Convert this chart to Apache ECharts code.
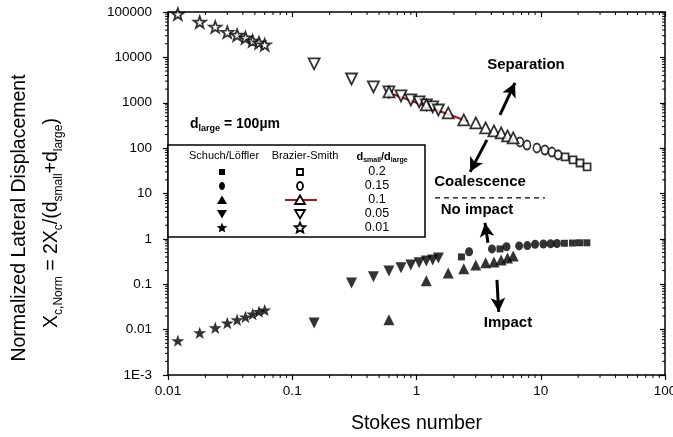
<!DOCTYPE html>
<html><head><meta charset="utf-8">
<script src="https://cdn.jsdelivr.net/npm/echarts@6/dist/echarts.min.js"></script>
<style>html,body{margin:0;padding:0;background:#fff}#c{width:673px;height:437px}</style>
</head><body><div id="c"></div>
<script>
// ---- data ----
const xTickLabels = ['0.01','0.1','1','10','100'];
const yTickLabels = ['1E-3','0.01','0.1','1','10','100','1000','10000','100000'];

// d_small/d_large = 0.01 (stars)
const starSt = [0.012,0.018,0.024,0.030,0.036,0.042,0.048,0.054,0.060];
const starBS = [90000,60000,47000,36000,31000,27000,23000,21000,19000];
const starSL = [0.0057,0.0085,0.011,0.014,0.0165,0.019,0.022,0.025,0.027];
// 0.05 (down triangles)
const triDownSt = [0.15,0.3,0.45,0.6,0.75,0.9,1.05,1.2,1.35,1.5];
const triDownBS = [7200,3340,2230,1730,1414,1153,1042,900,809,693];
const triDownSL = [0.014,0.107,0.146,0.197,0.23,0.267,0.296,0.327,0.344,0.381];
// 0.1 (up triangles)
const triUpSt = [0.6,1.2,1.8,2.4,3.0,3.6,4.2,4.8,5.4,6.0];
const triUpBS = [1730,895,596,418,359,279,239,216,186,168];
const triUpSL = [0.0165,0.119,0.178,0.219,0.267,0.296,0.311,0.344,0.381,0.422];
// 0.15 (circles)
const circBSSt = [6.8,7.75,9.3,10.8,12.3,13.8];
const circBS = [137,117,101,91,82,71];
const circSLSt = [2.65,4.05,5.3,6.7,7.8,9.0,10.5,12.0,13.5];
const circSL = [0.52,0.60,0.67,0.70,0.71,0.76,0.77,0.78,0.79];
// 0.2 (squares)
const sqBSSt = [15.7,18.2,20.7,23.6];
const sqBS = [64,55,47,38.5];
const sqSLSt = [2.3,4.7,15.5,18,20.5,23.5];
const sqSL = [0.40,0.60,0.80,0.81,0.82,0.82];
// red fit line through Brazier-Smith 0.1 data
const fitSt = [0.65,2.6];
const fitY = [1540,385];
// dashed coalescence / no impact boundary
const boundSt = [1.41,10.8];
const boundY = [8,8];
// annotation arrows [from, to]
const arrSeparation = [[4.7,540],[6.2,2730]];
const arrCoalescence = [[3.69,152],[2.70,30]];
const arrNoImpact = [[3.76,0.82],[3.56,2.25]];
const arrImpact = [[4.44,0.125],[4.59,0.0247]];

// ---- chart ----
const FONT = '"Liberation Sans", Arial, sans-serif';
const STAR = 'path://M50,2 L61.8,35.8 L97.6,36.4 L69,58.2 L79.4,92.4 L50,72 L20.6,92.4 L31,58.2 L2.4,36.4 L38.2,35.8 Z';
const zip = (a,b) => a.map((v,i)=>[v,b[i]]);
function sc(name, xs, ys, symbol, size, filled){
  return {type:'scatter', name, data: zip(xs,ys), symbol, symbolSize:size, symbolKeepAspect:true, z:5,
    itemStyle: filled ? {color:'#000'} : {color:'#fff', borderColor:'#000', borderWidth:1.8},
    emphasis:{disabled:true}};
}
function lblFromExp(labels, offset){
  return v => { const e = Math.round(Math.log10(v)); return labels[e+offset] || ''; };
}
const minorX = []; for(let n=-2;n<2;n++) for(let k=2;k<10;k++) minorX.push([k*Math.pow(10,n), 1]);
const minorY = []; for(let n=-3;n<5;n++) for(let k=2;k<10;k++) minorY.push([1, k*Math.pow(10,n)]);

function arrowLine(a){ return [{coord:a[0], symbol:'none'},{coord:a[1], symbol:'arrow'}]; }

const chart = echarts.init(document.getElementById('c'), null, {renderer:'canvas'});
const axisLine = {show:true, lineStyle:{color:'#000', width:1.5}};
const option = {
  animation:false,
  textStyle:{fontFamily:FONT},
  grid:{left:168, right:8, top:12, bottom:62, containLabel:false, outerBoundsMode:'none'},
  xAxis:[
    {type:'log', logBase:10, min:0.01, max:100, splitNumber:4, position:'bottom',
     axisLine, axisTick:{show:true, inside:false, length:5, lineStyle:{color:'#000', width:1.2}},
     axisLabel:{formatter: lblFromExp(xTickLabels,2), color:'#000', fontSize:13.5, margin:9, fontFamily:FONT},
     splitLine:{show:false},
     name:'Stokes number', nameLocation:'middle', nameGap:39,
     nameTextStyle:{fontSize:19.5, color:'#000', fontFamily:FONT}},
    {type:'log', logBase:10, min:0.01, max:100, splitNumber:4, position:'top',
     axisLine, axisTick:{show:true, inside:true, length:5, lineStyle:{color:'#000', width:1.2}},
     axisLabel:{show:false}, splitLine:{show:false}}
  ],
  yAxis:[
    {type:'log', logBase:10, min:0.001, max:100000, splitNumber:8, position:'left',
     axisLine, axisTick:{show:true, inside:false, length:5, lineStyle:{color:'#000', width:1.2}},
     axisLabel:{formatter: lblFromExp(yTickLabels,3), color:'#000', fontSize:13.5, margin:16, fontFamily:FONT},
     splitLine:{show:false}},
    {type:'log', logBase:10, min:0.001, max:100000, splitNumber:8, position:'right',
     axisLine, axisTick:{show:true, inside:true, length:5, lineStyle:{color:'#000', width:1.2}},
     axisLabel:{show:false}, splitLine:{show:false}}
  ],
  series:[
    {type:'custom', silent:true, clip:false, data:minorX, z:3,
     renderItem:(p,api)=>{ const v=api.value(0);
       const b=api.coord([v,0.001]), t=api.coord([v,100000]);
       return {type:'group', children:[
         {type:'line', shape:{x1:b[0],y1:b[1],x2:b[0],y2:b[1]+3}, style:{stroke:'#000',lineWidth:1}},
         {type:'line', shape:{x1:t[0],y1:t[1],x2:t[0],y2:t[1]+3}, style:{stroke:'#000',lineWidth:1}}]}; }},
    {type:'custom', silent:true, clip:false, data:minorY, z:3,
     renderItem:(p,api)=>{ const v=api.value(1);
       const l=api.coord([0.01,v]), r=api.coord([100,v]);
       return {type:'group', children:[
         {type:'line', shape:{x1:l[0],y1:l[1],x2:l[0]-3,y2:l[1]}, style:{stroke:'#000',lineWidth:1}},
         {type:'line', shape:{x1:r[0],y1:r[1],x2:r[0]-3,y2:r[1]}, style:{stroke:'#000',lineWidth:1}}]}; }},
    {type:'line', name:'fit', data: zip(fitSt,fitY), symbol:'none', z:2,
     lineStyle:{color:'#a81818', width:2}},
    {type:'line', name:'boundary', data: zip(boundSt,boundY), symbol:'none', z:2,
     lineStyle:{color:'#000', width:1.3, type:[5,4]},
     markLine:{silent:true, symbolSize:[11,14], label:{show:false},
       lineStyle:{color:'#000', width:3, type:'solid'},
       data:[arrowLine(arrSeparation), arrowLine(arrCoalescence), arrowLine(arrNoImpact), arrowLine(arrImpact)]}},
    sc('BS 0.2', sqBSSt, sqBS, 'rect', 7, false),
    sc('BS 0.15', circBSSt, circBS, 'circle', [7,9], false),
    sc('BS 0.05', triDownSt, triDownBS, 'triangle', 11, false),
    sc('BS 0.1', triUpSt, triUpBS, 'triangle', 11, false),
    sc('BS 0.01', starSt, starBS, STAR, 12, false),
    sc('SL 0.2', sqSLSt, sqSL, 'rect', 7, true),
    sc('SL 0.15', circSLSt, circSL, 'circle', [8,9], true),
    sc('SL 0.1', triUpSt, triUpSL, 'triangle', 11, true),
    sc('SL 0.05', triDownSt, triDownSL, 'triangle', 11, true),
    sc('SL 0.01', starSt, starSL, STAR, 13, true)
  ]
};
// rotate down triangles
option.series.forEach(s=>{ if(s.name==='BS 0.05'||s.name==='SL 0.05') s.symbolRotate=180; });

// ---- legend table & annotations (graphic) ----
function starPts(cx,cy,r){ const pts=[]; for(let i=0;i<10;i++){const a=-Math.PI/2+i*Math.PI/5; const rr=i%2?r*0.45:r; pts.push([cx+rr*Math.cos(a), cy+rr*Math.sin(a)]);} return pts; }
function marker(type, cx, cy, filled){
  const st = filled ? {fill:'#000'} : {fill:'#fff', stroke:'#000', lineWidth:1.8};
  if(type==='rect') return {type:'rect', shape:{x:cx-3,y:cy-3,width:6,height:6}, style:st};
  if(type==='circ') return {type:'ellipse', shape:{cx,cy,rx:3,ry:4}, style:st};
  if(type==='up') return {type:'polygon', shape:{points:[[cx,cy-4.5],[cx+5,cy+4],[cx-5,cy+4]]}, style:st};
  if(type==='down') return {type:'polygon', shape:{points:[[cx,cy+4.5],[cx+5,cy-4],[cx-5,cy-4]]}, style:st};
  return {type:'polygon', shape:{points:starPts(cx,cy,5.5)}, style:st};
}
const legRows = [['rect','0.2',172],['circ','0.15',186],['up','0.1',200],['down','0.05',214],['star','0.01',228]];
const g = [];
g.push({type:'rect', shape:{x:168,y:145,width:257,height:92}, style:{fill:'#fff', stroke:'#000', lineWidth:1.5}, z:10});
g.push({type:'text', x:224, y:156, z:11, style:{text:'Schuch/Löffler', font:'11px '+FONT, fill:'#000', textAlign:'center', textVerticalAlign:'middle'}});
g.push({type:'text', x:305, y:156, z:11, style:{text:'Brazier-Smith', font:'11px '+FONT, fill:'#000', textAlign:'center', textVerticalAlign:'middle'}});
g.push({type:'text', x:382, y:157, z:11, style:{text:'{b|d}{s|small}{b|/d}{s|large}', textAlign:'center', textVerticalAlign:'middle',
  rich:{b:{fontSize:11, fontWeight:'bold', fontFamily:FONT, lineHeight:14, fill:'#000'}, s:{fontSize:7, fontWeight:'bold', fontFamily:FONT, lineHeight:7, verticalAlign:'bottom', fill:'#000'}}}});
legRows.forEach(([t,lab,y])=>{
  const m1 = marker(t,222,y,true); m1.z=11; g.push(m1);
  if(t==='up') g.push({type:'line', z:11, shape:{x1:285,y1:y,x2:317,y2:y}, style:{stroke:'#a81818', lineWidth:2}});
  const m2 = marker(t,300,y,false); m2.z=12; g.push(m2);
  g.push({type:'text', x:377, y:y, z:11, style:{text:lab, font:'12.5px '+FONT, fill:'#000', textAlign:'center', textVerticalAlign:'middle'}});
});
const boldTxt = (text,x,y)=>({type:'text', x, y, z:11, style:{text, font:'bold 15px '+FONT, fill:'#000', textAlign:'center', textVerticalAlign:'middle'}});
g.push(boldTxt('Separation',526,65));
g.push(boldTxt('Coalescence',480,182));
g.push(boldTxt('No impact',477,210));
g.push(boldTxt('Impact',508,323));
g.push({type:'text', x:190, y:124, z:11, style:{text:'{b|d}{s|large}{b| = 100µm}', textAlign:'left', textVerticalAlign:'middle',
  rich:{b:{fontSize:14, fontWeight:'bold', fontFamily:FONT, lineHeight:18, fill:'#000'}, s:{fontSize:9, fontWeight:'bold', fontFamily:FONT, lineHeight:9, verticalAlign:'bottom', fill:'#000'}}}});
// y-axis title
g.push({type:'text', x:20, y:218, rotation:Math.PI/2, style:{text:'Normalized Lateral Displacement', font:'19.5px '+FONT, fill:'#000', textAlign:'center', textVerticalAlign:'middle'}});
g.push({type:'text', x:52, y:223, rotation:Math.PI/2, style:{text:'{m|X}{s|c,Norm}{m| = 2X}{s|c}{m|/(d}{s|small}{m|+d}{s|large}{m|)}', textAlign:'center', textVerticalAlign:'middle',
  rich:{m:{fontSize:19.5, fontFamily:FONT, lineHeight:26, fill:'#000'}, s:{fontSize:12, fontFamily:FONT, lineHeight:12, verticalAlign:'bottom', fill:'#000'}}}});
option.graphic = g;
chart.setOption(option);
</script></body></html>
